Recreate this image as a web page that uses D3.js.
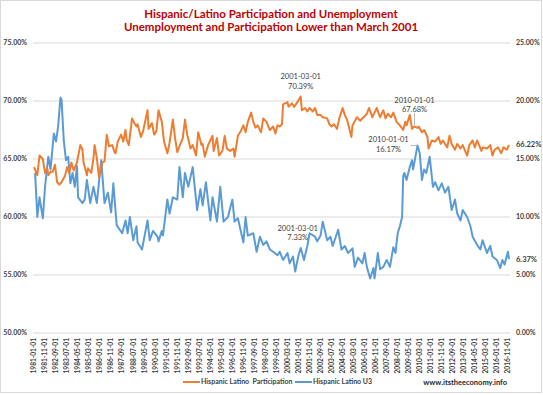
<!DOCTYPE html>
<html>
<head>
<meta charset="utf-8">
<script src="https://cdn.jsdelivr.net/npm/d3@7"></script>
<style>
  body { margin: 0; background: #fff; }
  svg { display: block; font-family: Lato, 'Open Sans', sans-serif; }
</style>
</head>
<body>
<svg id="chart" width="543" height="395"></svg>
<script>
// months counted from 1981-01 (0) to 2016-12 (431)
const partMonths = [0,3,5,8,10,12,13,15,17,19,21,23,25,26,28,30,32,34,36,39,42,44,45,48,49,52,54,55,57,59,62,64,66,68,71,73,74,76,79,81,83,84,86,89,91,93,94,97,99,103,104,107,109,111,113,116,118,121,123,126,128,130,132,135,137,139,142,144,147,149,152,153,155,158,162,163,166,168,171,173,175,178,181,182,185,187,190,192,194,197,199,201,203,206,208,211,214,217,219,221,223,225,226,230,231,234,236,239,242,243,246,248,250,253,255,257,260,262,266,268,270,272,275,277,280,282,284,288,289,293,296,299,302,304,307,309,311,314,317,319,321,324,326,329,332,335,337,338,341,343,345,348,349,352,354,357,358,361,364,367,369,371,375,377,379,382,384,387,389,393,395,398,400,402,406,407,411,414,416,418,421,424,426,429,431];
const participation = [64.3,63.6,65.3,65.0,63.8,64.2,63.6,63.9,63.9,64.5,63.0,62.8,63.0,63.2,63.5,64.3,63.8,64.7,64.0,64.7,66.2,65.8,64.7,63.6,64.2,63.8,65.1,66.2,65.1,63.4,64.7,64.8,67.1,66.1,66.2,65.6,65.5,66.5,67.1,66.5,67.5,66.7,66.2,68.5,68.1,67.8,68.0,66.9,67.4,69.2,67.6,68.1,67.1,67.4,69.2,68.2,66.5,65.5,66.4,68.4,66.8,65.6,66.1,66.8,68.4,67.1,65.9,66.2,65.3,67.3,66.2,66.3,65.2,66.2,67.0,65.7,66.8,65.3,65.7,67.0,65.9,65.7,65.9,65.2,67.0,67.3,67.9,67.3,68.2,69.0,68.2,67.7,67.9,67.3,68.5,68.2,67.5,67.8,67.2,67.9,67.8,68.0,69.7,69.9,69.5,69.8,69.5,69.9,70.39,69.2,69.4,69.1,69.4,69.1,69.4,68.8,68.8,68.6,68.5,68.0,67.8,68.0,67.6,68.5,69.4,68.8,68.4,66.9,67.9,68.6,68.3,68.6,68.9,69.4,68.6,69.0,69.4,68.6,69.2,68.5,68.9,68.6,69.0,68.2,67.9,67.5,68.2,67.9,68.8,67.6,67.8,67.68,67.8,67.3,67.5,66.9,65.9,66.6,66.5,66.9,66.3,66.6,66.0,67.0,66.3,65.8,66.3,65.9,66.2,65.3,66.2,66.6,66.0,66.6,65.7,66.0,65.9,66.2,65.3,65.8,66.0,65.5,66.0,65.8,66.22];

const u3Months = [1,3,5,8,10,13,15,18,20,22,24,25,27,29,31,33,35,37,39,40,44,46,48,51,54,57,61,64,67,70,72,75,80,83,85,87,90,93,94,98,103,105,108,112,113,116,117,121,123,126,130,132,135,137,140,144,148,151,153,156,160,162,166,169,172,176,180,182,185,190,192,194,199,202,205,208,211,214,217,221,223,226,230,232,235,237,240,242,245,248,250,255,257,260,262,266,269,271,276,279,282,285,289,291,294,298,300,302,305,308,309,312,314,317,320,323,326,328,330,332,334,335,336,338,341,343,344,348,350,352,354,356,359,362,364,367,370,373,376,379,382,384,387,389,393,396,398,402,405,407,411,414,416,420,423,425,427,430,431];
const u3 = [13.8,10.0,11.7,9.9,12.6,15.2,14.1,17.2,16.5,17.9,20.3,20.1,16.6,14.9,15.2,12.9,13.8,12.6,14.4,11.7,11.2,11.5,13.2,11.2,12.6,11.2,14.9,11.2,12.1,10.4,12.9,9.3,8.6,9.7,8.6,10.0,8.0,9.2,7.8,7.2,9.7,8.0,8.8,8.3,7.9,8.8,8.4,11.5,10.3,11.7,11.5,14.3,11.7,13.8,12.6,14.3,10.6,12.4,11.0,13.0,9.7,11.7,9.6,12.6,9.6,10.0,11.5,9.6,9.9,7.8,10.0,8.4,8.6,7.0,8.3,7.6,7.9,7.2,7.0,6.7,7.0,6.3,6.9,6.0,6.6,5.3,6.7,7.33,6.3,7.5,8.6,8.3,7.9,8.4,9.6,8.0,8.3,7.5,8.9,7.2,7.5,6.9,7.3,5.7,6.5,6.0,6.9,5.7,4.7,5.6,4.7,6.9,5.5,5.7,6.3,5.7,7.4,6.9,8.6,9.2,10.0,13.5,13.8,13.2,14.3,14.9,14.1,16.17,15.5,13.2,14.1,13.8,15.2,12.6,13.0,12.3,12.9,12.1,12.6,10.6,11.5,10.3,9.7,10.6,10.0,9.2,8.3,7.6,7.2,8.0,6.9,7.5,6.6,6.3,5.6,6.3,5.9,7.0,6.37];

const leftTicks = [50, 55, 60, 65, 70, 75];
const rightTicks = [0, 5, 10, 15, 20, 25];
const xTickLabels = ['1981-01-01','1981-11-01','1982-09-01','1983-07-01','1984-05-01','1985-03-01','1986-01-01','1986-11-01','1987-09-01','1988-07-01','1989-05-01','1990-03-01','1991-01-01','1991-11-01','1992-09-01','1993-07-01','1994-05-01','1995-03-01','1996-01-01','1996-11-01','1997-09-01','1998-07-01','1999-05-01','2000-03-01','2001-01-01','2001-11-01','2002-09-01','2003-07-01','2004-05-01','2005-03-01','2006-01-01','2006-11-01','2007-09-01','2008-07-01','2009-05-01','2010-03-01','2011-01-01','2011-11-01','2012-09-01','2013-07-01','2014-05-01','2015-03-01','2016-01-01','2016-11-01'];

const orange = '#ed7d31';
const blue = '#5b9bd5';
const textColor = '#404040';

const svg = d3.select('#chart');

svg.append('rect')
  .attr('x', 0.5).attr('y', 0.5)
  .attr('width', 541).attr('height', 392)
  .attr('fill', '#fff').attr('stroke', '#d9d9d9');

const x = d3.scaleLinear().domain([0, 431]).range([34, 509]);
const yL = d3.scaleLinear().domain([50, 75]).range([333, 43]);
const yR = d3.scaleLinear().domain([0, 25]).range([333, 43]);

// gridlines
svg.append('g')
  .selectAll('line')
  .data(leftTicks)
  .join('line')
  .attr('x1', 33).attr('x2', 510)
  .attr('y1', (d) => yL(d)).attr('y2', (d) => yL(d))
  .attr('stroke', '#d9d9d9').attr('stroke-width', 1);

// left axis
svg.append('g')
  .selectAll('text')
  .data(leftTicks)
  .join('text')
  .attr('x', 27).attr('y', (d) => yL(d))
  .attr('dy', '0.35em')
  .attr('text-anchor', 'end')
  .style('font-size', '7px').style('font-weight', 'bold')
  .attr('fill', textColor)
  .text((d) => d.toFixed(2) + '%');

// right axis
svg.append('g')
  .selectAll('text')
  .data(rightTicks)
  .join('text')
  .attr('x', 516).attr('y', (d) => yR(d))
  .attr('dy', '0.35em')
  .style('font-size', '7px').style('font-weight', 'bold')
  .attr('fill', textColor)
  .text((d) => d.toFixed(2) + '%');

// x labels, one every 10 months
svg.append('g')
  .selectAll('text')
  .data(xTickLabels)
  .join('text')
  .attr('transform', (d, i) => `translate(${x(i * 10)},338) rotate(-90)`)
  .attr('dy', '0.35em')
  .attr('text-anchor', 'end')
  .style('font-size', '6.6px').style('font-weight', 'bold')
  .attr('fill', textColor)
  .text((d) => d);

const partData = partMonths.map((m, i) => ({ m, v: participation[i] }));
const u3Data = u3Months.map((m, i) => ({ m, v: u3[i] }));

svg.append('path')
  .datum(u3Data)
  .attr('fill', 'none')
  .attr('stroke', blue)
  .attr('stroke-width', 2)
  .attr('stroke-linejoin', 'round')
  .attr('d', d3.line().x((d) => x(d.m)).y((d) => yR(d.v)));

svg.append('path')
  .datum(partData)
  .attr('fill', 'none')
  .attr('stroke', orange)
  .attr('stroke-width', 2)
  .attr('stroke-linejoin', 'round')
  .attr('d', d3.line().x((d) => x(d.m)).y((d) => yL(d.v)));

// point annotations
const note = (cx, cy, lines) => {
  const t = svg.append('text')
    .attr('text-anchor', 'middle')
    .style('font-size', '7.5px')
    .attr('fill', textColor);
  lines.forEach((s, i) => {
    t.append('tspan').attr('x', cx).attr('y', cy + i * 9.5).text(s);
  });
};

const find = (arr, m) => arr.find((d) => d.m === m);
const p01 = find(partData, 242);
const p10 = find(partData, 348);
const u01 = find(u3Data, 242);
const u10 = find(u3Data, 348);

note(x(p01.m), yL(p01.v) - 17, ['2001-03-01', p01.v.toFixed(2) + '%']);
note(x(p10.m) - 3, yL(p10.v) - 25, ['2010-01-01', p10.v.toFixed(2) + '%']);
svg.append('line')
  .attr('x1', x(p10.m) - 3).attr('x2', x(p10.m) - 3)
  .attr('y1', yL(p10.v) - 15).attr('y2', yL(p10.v) - 3)
  .attr('stroke', '#a6a6a6').attr('stroke-width', 0.8);
note(x(u10.m) - 29, yR(u10.v) - 3, ['2010-01-01', u10.v.toFixed(2) + '%']);
svg.append('line')
  .attr('x1', x(u10.m) - 7).attr('x2', x(u10.m))
  .attr('y1', yR(u10.v)).attr('y2', yR(u10.v))
  .attr('stroke', '#a6a6a6').attr('stroke-width', 0.8);
note(x(u01.m) - 3, yR(u01.v) - 17, ['2001-03-01', u01.v.toFixed(2) + '%']);

// last values
const pLast = partData[partData.length - 1];
const uLast = u3Data[u3Data.length - 1];
[[yL(pLast.v), pLast.v], [yR(uLast.v), uLast.v]].forEach(([yy, v]) => {
  svg.append('text')
    .attr('x', 516).attr('y', yy).attr('dy', '0.35em')
    .style('font-size', '7.5px').style('font-weight', 'bold')
    .attr('fill', textColor)
    .text(v.toFixed(2) + '%');
});

// titles
const titles = ['Hispanic/Latino Participation and Unemployment', 'Unemployment and Participation Lower than March 2001'];
svg.append('g')
  .selectAll('text')
  .data(titles)
  .join('text')
  .attr('x', 271).attr('y', (d, i) => 18 + i * 13)
  .attr('text-anchor', 'middle')
  .style('font-size', '11.5px').style('font-weight', 'bold')
  .attr('fill', '#c00000')
  .text((d) => d);

// legend
const legend = [
  { name: 'Hispanic Latino  Participation', color: orange, x: 183 },
  { name: 'Hispanic Latino U3', color: blue, x: 295 },
];
const lg = svg.append('g');
legend.forEach((d) => {
  lg.append('line')
    .attr('x1', d.x).attr('x2', d.x + 17)
    .attr('y1', 382).attr('y2', 382)
    .attr('stroke', d.color).attr('stroke-width', 2);
  lg.append('text')
    .attr('x', d.x + 18).attr('y', 382).attr('dy', '0.35em')
    .attr('xml:space', 'preserve')
    .style('white-space', 'pre')
    .style('font-size', '7px').style('font-weight', 'bold')
    .attr('fill', textColor)
    .text(d.name);
});
svg.append('text')
  .attr('x', 507).attr('y', 382).attr('dy', '0.35em')
  .attr('text-anchor', 'end')
  .style('font-size', '7.5px').style('font-weight', 'bold')
  .attr('fill', '#262626')
  .text('www.itstheeconomy.info');
</script>
</body>
</html>
